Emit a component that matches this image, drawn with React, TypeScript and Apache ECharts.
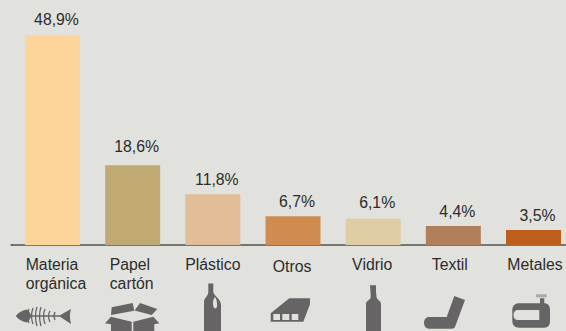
import React, { useEffect, useRef } from "react";
import * as echarts from "echarts";

const categories = ["Materia\norgánica", "Papel\ncartón", "Plástico", "Otros", "Vidrio", "Textil", "Metales"];
const shares = [48.9, 18.6, 11.8, 6.7, 6.1, 4.4, 3.5];
const barColors = ["#fdd59b", "#c0a973", "#e2bd97", "#d08c50", "#dfcca3", "#b17f5c", "#bc5e1c"];
const labelGaps = [8, 11, 7, 7, 8, 7, 6];
const tickPaddings = [
  [0, 0, 0, 7],
  [0, 2, 0, 0],
  [0, 0, 0, 0],
  [3, 2, 0, 0],
  [0, 2, 0, 0],
  [0, 7, 0, 0],
  [0, 0, 0, 3],
];

const BG = "#e1e2dd";
const ICON = "#666465";
const FONT = '"Liberation Sans", Arial, sans-serif';

const iconPaths: Record<string, string> = {
  fishBody:
    "M15.7 316 C19 312 23 310 27 309.5 C29 311 30.5 313.5 31 315.2 L60 315.2 L71 309 C69.5 314 69.5 318 71 324 L60 316.8 L31 316.8 C30 319 29 321 27 322.5 C23 322 19 320 15.7 316 Z",
  box:
    "M111.7 307.3 L132.7 303 L134.3 310.7 L111 315 Z M140 303 L157.3 309 L151.7 315 L134.5 310.5 Z M105 323.3 L111 316.7 L131.7 321.7 L131.7 331 L111 331 L111 324.3 Z M133.3 321.7 L153.3 316.7 L159.3 323.3 L154.3 324.3 L154.3 331 L133.3 331 Z",
  jug:
    "M208.3 283.5 L213.3 283.5 L213.3 292 C214 296 221 299 221 305 L221 331 L204 331 L204 302 C204 298 208.3 296 208.3 292 Z M215 297 C213 299 212.6 304 213.5 307 C214.5 309 216.5 309 217 306.5 C217.5 303 216.5 299 215 297 Z",
  otros:
    "M270.7 313.3 L289.3 298.3 L310 298.3 L310 304.3 L303.3 321.7 L270.7 321.7 Z M273.3 314 L273.3 320 L280 320 L280 314 Z M282.3 314 L282.3 320 L289.3 320 L289.3 314 Z M291.7 314 L291.7 320 L298.3 320 L298.3 314 Z",
  wine:
    "M370 285.3 L376 285.3 L376 292 L376.7 297.7 C377.5 300 381 301 381 304 L381 331 L366 331 L366 304 C366 301 369.8 300 370.7 297.7 L370.5 292 Z",
  sock:
    "M454.3 296 L465 300 L456 324.3 C455.3 327 454.5 328.7 452 328.7 L429 328.7 C426 328.7 424 326 424 323 C424 319.5 426 317 429 317 L446.7 317 Z",
  clamp:
    "M519.3 303.3 L540 303.3 L540 298.3 L544.3 298.3 L544.3 303.3 C548 303.3 550 306 550 310 L550 321 C550 325 548 327.7 544 327.7 L519.3 327.7 C515 327.7 512.3 325 512.3 321 L512.3 310 C512.3 306 515 303.3 519.3 303.3 Z M518 310 C515 310 513.5 312 513.5 315 C513.5 318 515 320 518 320 L539.3 320 L539.3 310 Z",
};

const fishRibs =
  "M29 309 Q26 316 29 323 M33 308 Q30 316 33 324 M37 307 Q34 316 37 326 M41 307 Q38 316 41 326 M45 309 Q42 316 45 324 M50 311 Q47 316 50 322 M55 312 Q53 316 55 320";

export default function App() {
  const ref = useRef<HTMLDivElement>(null);

  useEffect(() => {
    document.body.style.margin = "0";
    document.body.style.background = BG;

    Object.entries(iconPaths).forEach(([name, d]) => {
      echarts.graphic.registerShape("icon_" + name, echarts.graphic.extendPath(d, {}));
    });
    echarts.graphic.registerShape("icon_ribs", echarts.graphic.extendPath(fishRibs, {}));

    const chart = echarts.init(ref.current!, null, { renderer: "svg" });

    const rich: Record<string, any> = {};
    categories.forEach((_, i) => {
      rich["t" + i] = {
        fontFamily: FONT,
        fontSize: 15.8,
        lineHeight: 19,
        color: "#2c2c2c",
        align: "left",
        padding: tickPaddings[i],
      };
    });

    chart.setOption({
      animation: false,
      backgroundColor: BG,
      grid: { left: 12.4, top: 9, width: 561.2, height: 236, outerBoundsMode: "none", containLabel: false },
      xAxis: {
        type: "category",
        data: categories,
        axisLine: { lineStyle: { color: "#55534f", width: 1.5 } },
        axisTick: { show: false },
        axisLabel: {
          interval: 0,
          margin: 10,
          verticalAlign: "top",
          formatter: (value: string, index: number) =>
            value
              .split("\n")
              .map((line) => `{t${index}|${line}}`)
              .join("\n"),
          rich,
        },
      },
      yAxis: { type: "value", min: 0, max: 55, show: false, splitLine: { show: false } },
      series: [
        {
          type: "bar",
          barWidth: 55,
          data: shares.map((value, i) => ({
            value,
            itemStyle: { color: barColors[i] },
            label: { distance: labelGaps[i] },
          })),
          label: {
            show: true,
            position: "top",
            offset: [4, 0],
            fontFamily: FONT,
            fontSize: 15.8,
            color: "#2c2c2c",
            formatter: (p: any) => String(p.value.toFixed(1)).replace(".", ",") + "%",
          },
        },
      ],
      graphic: [
        { type: "line", shape: { x1: 10.5, y1: 245, x2: 13, y2: 245 }, style: { stroke: "#55534f", lineWidth: 1.5 }, silent: true },
        ...Object.keys(iconPaths).map((name) => ({
          type: "icon_" + name,
          x: 0,
          y: 0,
          silent: true,
          style: { fill: ICON, fillRule: "evenodd" },
        })),
        { type: "icon_ribs", x: 0, y: 0, silent: true, style: { fill: "none", stroke: ICON, lineWidth: 1.3 } },
        { type: "rect", shape: { x: 536, y: 294.3, width: 10.7, height: 3 }, style: { fill: "#a9a9a6" }, silent: true },
      ],
    });

    return () => chart.dispose();
  }, []);

  return <div ref={ref} style={{ width: 566, height: 331 }} />;
}
